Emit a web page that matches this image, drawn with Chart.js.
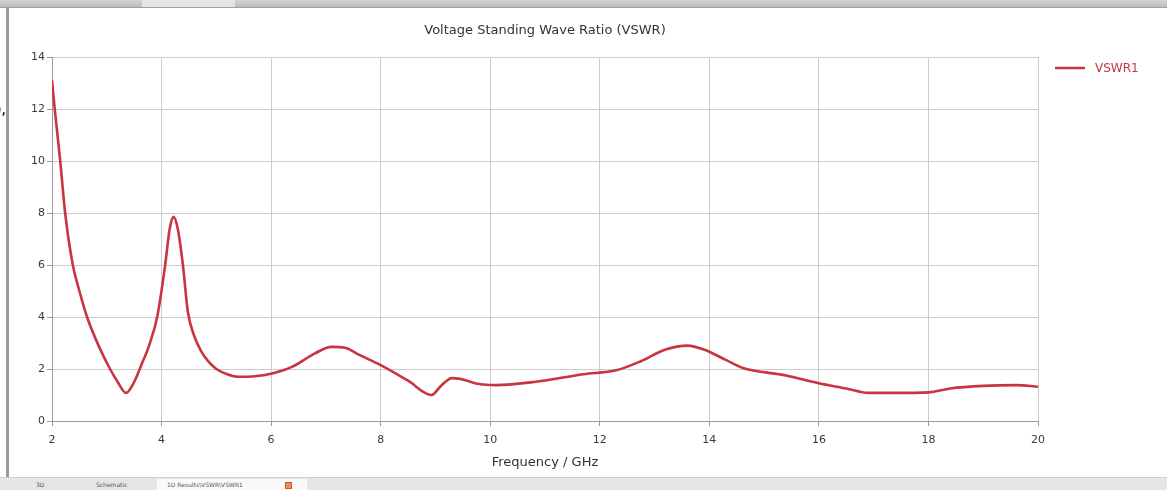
<!DOCTYPE html>
<html>
<head>
<meta charset="utf-8">
<script src="https://cdn.jsdelivr.net/npm/chart.js@4.4.1/dist/chart.umd.min.js"></script>
<style>
  html, body { margin: 0; padding: 0; background: #ffffff; width: 1167px; height: 490px; overflow: hidden; position: relative; font-family: "DejaVu Sans", sans-serif; }
  #topbar { position: absolute; left: 0; top: 0; width: 1167px; height: 8px; background: linear-gradient(#d4d4d4, #bdbdbd); border-bottom: 1px solid #a0a0a0; box-sizing: border-box; }
  #toptab { position: absolute; left: 142px; top: 0; width: 93px; height: 7px; background: #e4e4e4; }
  #leftborder { position: absolute; left: 6px; top: 8px; width: 3px; height: 469px; background: #9c9c9c; }
  #frag { position: absolute; left: 0; top: 100px; width: 6px; height: 24px; overflow: hidden; }
  #frag span { position: absolute; right: 0; top: 0; font: 15px "DejaVu Sans", sans-serif; color: #000; -webkit-font-smoothing: antialiased; }
  #bottombar { position: absolute; left: 0; top: 477px; width: 1167px; height: 13px; background: #e6e6e6; border-top: 1px solid #cfcfcf; box-sizing: border-box; }
  .tab { position: absolute; top: 1px; height: 12px; font: 6px "DejaVu Sans", sans-serif; color: #555; line-height: 12px; white-space: nowrap; }
  #tabActive { left: 157px; width: 150px; background: #fafafa; padding-left: 10px; box-sizing: border-box; }
  #tabIcon { position: absolute; left: 128px; top: 3px; width: 7px; height: 7px; background: #f08a5a; border: 1px solid #d05a30; box-sizing: border-box; }
  #wrap { position: absolute; left: 10px; top: 8px; width: 1157px; height: 469px; }
</style>
</head>
<body>
<div id="topbar"><div id="toptab"></div></div>
<div id="leftborder"></div>
<div id="frag"><span>o,</span></div>
<div id="wrap"><canvas id="c" width="1157" height="469"></canvas></div>
<div id="bottombar">
  <div class="tab" style="left:36px;">3D</div>
  <div class="tab" style="left:96px;">Schematic</div>
  <div class="tab" id="tabActive">1D Results\VSWR\VSWR1<div id="tabIcon"></div></div>
</div>
<script>
// ---- data ----
const freqGHz = [2.0, 2.05, 2.1, 2.15, 2.24, 2.38, 2.5, 2.64, 2.85, 3.06, 3.2, 3.35, 3.5, 3.62, 3.78, 3.92, 4.06, 4.15, 4.22, 4.3, 4.39, 4.48, 4.6, 4.72, 4.85, 5.0, 5.2, 5.4, 5.7, 6.0, 6.4, 6.8, 7.1, 7.35, 7.6, 8.0, 8.5, 8.93, 9.1, 9.3, 9.45, 9.8, 10.1, 10.8, 11.7, 12.3, 12.75, 13.2, 13.6, 13.9, 14.3, 14.6, 15.4, 16.0, 16.5, 16.9, 17.4, 18.0, 18.4, 19.0, 19.6, 20.0];
const vswr1   = [13.1, 12.0, 11.0, 10.0, 8.0, 6.0, 5.0, 4.0, 2.9, 2.0, 1.5, 1.08, 1.5, 2.1, 2.95, 4.0, 5.9, 7.4, 7.85, 7.35, 6.0, 4.2, 3.25, 2.7, 2.3, 2.0, 1.8, 1.7, 1.72, 1.82, 2.1, 2.6, 2.85, 2.82, 2.55, 2.15, 1.55, 1.0, 1.35, 1.65, 1.62, 1.42, 1.38, 1.5, 1.8, 1.95, 2.3, 2.75, 2.9, 2.75, 2.35, 2.05, 1.75, 1.45, 1.25, 1.08, 1.08, 1.1, 1.25, 1.35, 1.38, 1.32];
const seriesName = "VSWR1";
const chartTitle = "Voltage Standing Wave Ratio (VSWR)";
const xAxisTitle = "Frequency / GHz";
const xTicks = [2, 4, 6, 8, 10, 12, 14, 16, 18, 20];
const yTicks = [0, 2, 4, 6, 8, 10, 12, 14];

const points = freqGHz.map((f, i) => ({ x: f, y: vswr1[i] }));
const lineColor = '#c8343f';

const legendPlugin = {
  id: 'sideLegend',
  afterDraw(chart) {
    const ctx = chart.ctx;
    const ca = chart.chartArea;
    const ds = chart.data.datasets[0];
    const x0 = ca.right + 17, y0 = ca.top + 11;
    ctx.save();
    ctx.strokeStyle = ds.borderColor;
    ctx.lineWidth = 2.5;
    ctx.beginPath();
    ctx.moveTo(x0, y0);
    ctx.lineTo(x0 + 30, y0);
    ctx.stroke();
    ctx.fillStyle = ds.borderColor;
    ctx.font = '12px "DejaVu Sans", sans-serif';
    ctx.textBaseline = 'middle';
    ctx.fillText(ds.label, x0 + 40, y0 + 1);
    ctx.restore();
  }
};

new Chart(document.getElementById('c'), {
  type: 'line',
  data: {
    datasets: [{
      label: seriesName,
      data: points,
      borderColor: lineColor,
      backgroundColor: lineColor,
      borderWidth: 2.6,
      pointRadius: 0,
      cubicInterpolationMode: 'monotone',
      fill: false
    }]
  },
  options: {
    responsive: false,
    animation: false,
    layout: { padding: { left: 0, right: 129, top: 0, bottom: 7 } },
    plugins: {
      legend: { display: false },
      tooltip: { enabled: false },
      title: {
        display: true,
        text: chartTitle,
        fullSize: false,
        color: '#333333',
        font: { family: '"DejaVu Sans", sans-serif', size: 13, weight: 'normal' },
        padding: { top: 15, bottom: 18.4 }
      }
    },
    scales: {
      x: {
        type: 'linear',
        min: 2, max: 20,
        afterBuildTicks(s) { s.ticks = xTicks.map(v => ({ value: v })); },
        afterFit(s) { s.height = 49; },
        ticks: { color: '#3a3a3a', font: { family: '"DejaVu Sans", sans-serif', size: 11 }, padding: 8, maxRotation: 0 },
        grid: { color: '#cccccc', lineWidth: 1, tickLength: 5, tickColor: '#999999' },
        border: { color: '#9a9a9a', width: 1 },
        title: { display: true, text: xAxisTitle, color: '#333333', font: { family: '"DejaVu Sans", sans-serif', size: 13 }, padding: { top: 4, bottom: 0 } }
      },
      y: {
        type: 'linear',
        min: 0, max: 14,
        afterBuildTicks(s) { s.ticks = yTicks.map(v => ({ value: v })); },
        afterFit(s) { s.width = 42; },
        ticks: { color: '#3a3a3a', font: { family: '"DejaVu Sans", sans-serif', size: 11 }, padding: 2 },
        grid: { color: '#cccccc', lineWidth: 1, tickLength: 5, tickColor: '#999999' },
        border: { color: '#9a9a9a', width: 1 }
      }
    }
  },
  plugins: [legendPlugin]
});
</script>
</body>
</html>
